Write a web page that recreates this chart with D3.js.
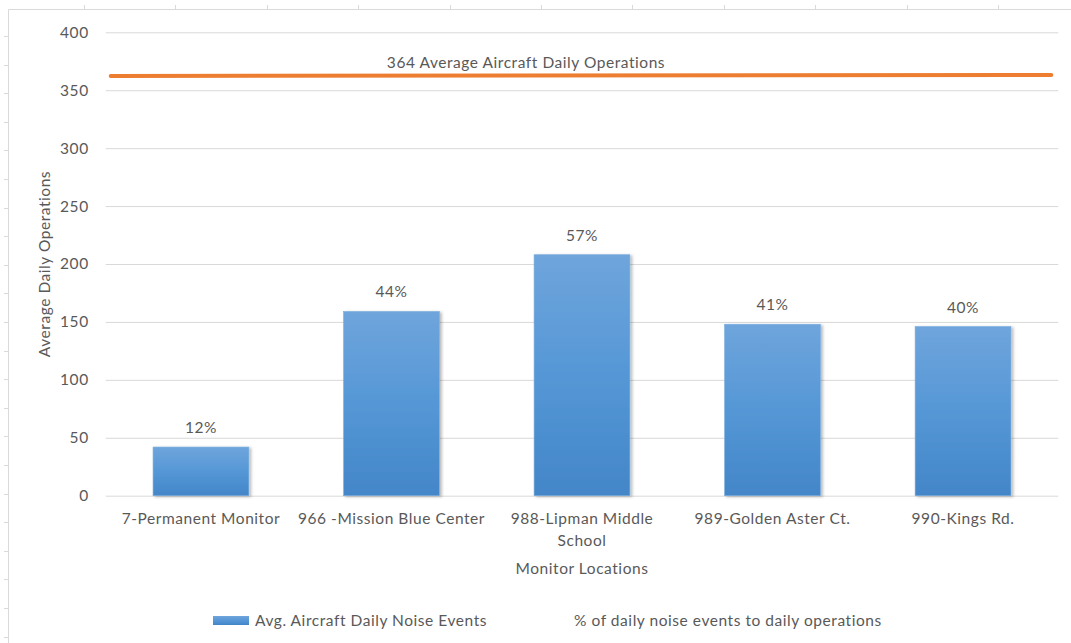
<!DOCTYPE html>
<html>
<head>
<meta charset="utf-8">
<script src="https://cdn.jsdelivr.net/npm/d3@7"></script>
<style>
  html, body { margin: 0; padding: 0; background: #fff; }
  svg { display: block; }
  text { font-family: Lato, "Open Sans", sans-serif; fill: #595959; letter-spacing: 0.55px; }
</style>
</head>
<body>
<svg id="chart" width="1071" height="643"></svg>
<script>
// Monitor locations (a "\n" marks where a long name breaks onto a second line)
const locations = [
  "7-Permanent Monitor",
  "966 -Mission Blue Center",
  "988-Lipman Middle\nSchool",
  "989-Golden Aster Ct.",
  "990-Kings Rd."
];
// Average aircraft daily noise events at each monitor
const noiseEvents = [42, 159, 208, 148, 146];

// Average aircraft daily operations (reference line)
const dailyOperations = 364;

// Value axis ticks
const yTicks = [0, 50, 100, 150, 200, 250, 300, 350, 400];

const seriesNames = [
  "Avg. Aircraft Daily Noise Events",
  "% of daily noise events to daily operations"
];

const FS = 15.5;
const svg = d3.select("#chart");
const W = 1071, H = 643;
const plot = { left: 105.7, right: 1058.3, top: 32.3, bottom: 495.7 };

const x = d3.scaleBand()
  .domain(locations)
  .range([plot.left, plot.right])
  .paddingInner(0.497)
  .paddingOuter(0.2485);

const y = d3.scaleLinear()
  .domain([0, 400])
  .range([plot.bottom, plot.top]);

// Worksheet frame with row / column markers
const frame = svg.append("g").attr("stroke", "#dadada").attr("fill", "none");
frame.append("line").attr("x1", 8.5).attr("x2", 8.5).attr("y1", 9.5).attr("y2", H);
frame.append("line").attr("x1", 8.5).attr("x2", W).attr("y1", 9.5).attr("y2", 9.5);
d3.range(36, H, 28.6).forEach(v => {
  frame.append("line").attr("x1", 4).attr("x2", 8.5)
    .attr("y1", Math.round(v) + 0.5).attr("y2", Math.round(v) + 0.5);
});
d3.range(84, W, 91.4).forEach(v => {
  frame.append("line").attr("x1", Math.round(v) + 0.5).attr("x2", Math.round(v) + 0.5)
    .attr("y1", 5).attr("y2", 9.5);
});

const defs = svg.append("defs");
const grad = defs.append("linearGradient")
  .attr("id", "barFill").attr("x1", 0).attr("x2", 0).attr("y1", 0).attr("y2", 1);
grad.append("stop").attr("offset", "0%").attr("stop-color", "#6fa5dc");
grad.append("stop").attr("offset", "50%").attr("stop-color", "#5597d6");
grad.append("stop").attr("offset", "100%").attr("stop-color", "#4386c8");

const shadow = defs.append("filter").attr("id", "barShadow")
  .attr("x", "-10%").attr("y", "-10%").attr("width", "130%").attr("height", "130%");
shadow.append("feDropShadow")
  .attr("dx", 2).attr("dy", 1).attr("stdDeviation", 1.6)
  .attr("flood-color", "#000").attr("flood-opacity", 0.28);

// Horizontal gridlines and value labels
const yAxis = d3.axisLeft(y).tickValues(yTicks).tickSize(-(plot.right - plot.left)).tickPadding(17);
const gy = svg.append("g")
  .attr("transform", `translate(${plot.left},0)`)
  .call(yAxis);
gy.select(".domain").remove();
gy.selectAll(".tick line").attr("stroke", "#d9d9d9").attr("stroke-width", 1);
gy.selectAll(".tick text")
  .attr("font-size", FS).attr("fill", "#595959")
  .style("font-family", "Lato, sans-serif");

// Bars
svg.append("g").selectAll("rect")
  .data(noiseEvents)
  .join("rect")
  .attr("x", (d, i) => x(locations[i]))
  .attr("width", x.bandwidth())
  .attr("y", d => y(d))
  .attr("height", d => y(0) - y(d))
  .attr("fill", "url(#barFill)")
  .attr("stroke", "#7aaedf")
  .attr("stroke-width", 0.6)
  .attr("filter", "url(#barShadow)");

// Share of daily operations above each bar
svg.append("g").selectAll("text")
  .data(noiseEvents)
  .join("text")
  .attr("x", (d, i) => x(locations[i]) + x.bandwidth() / 2)
  .attr("y", d => y(d) - 14)
  .attr("text-anchor", "middle")
  .attr("font-size", FS)
  .text(d => `${Math.round(d / dailyOperations * 100)}%`);

// Category labels along the bottom
const gx = svg.append("g");
locations.forEach(name => {
  const cx = x(name) + x.bandwidth() / 2;
  const t = gx.append("text")
    .attr("x", cx)
    .attr("y", 524)
    .attr("text-anchor", "middle")
    .attr("font-size", FS);
  name.split("\n").forEach((ln, k) => {
    t.append("tspan").attr("x", cx).attr("dy", k === 0 ? 0 : 22).text(ln);
  });
});

// Operations reference line
svg.append("line")
  .attr("x1", plot.left + 5).attr("x2", plot.right - 7)
  .attr("y1", y(dailyOperations) + 2).attr("y2", y(dailyOperations) + 1)
  .attr("stroke", "#ed7d31").attr("stroke-width", 4).attr("stroke-linecap", "round");

svg.append("text")
  .attr("x", 526).attr("y", 68)
  .attr("text-anchor", "middle")
  .attr("font-size", FS)
  .text(`${dailyOperations} Average Aircraft Daily Operations`);

// Axis titles
svg.append("text")
  .attr("transform", `translate(50,264) rotate(-90)`)
  .attr("text-anchor", "middle")
  .attr("font-size", FS)
  .text("Average Daily Operations");

svg.append("text")
  .attr("x", 582).attr("y", 574)
  .attr("text-anchor", "middle")
  .attr("font-size", FS)
  .text("Monitor Locations");

// Legend
const legend = svg.append("g");
legend.append("rect")
  .attr("x", 213).attr("y", 616).attr("width", 36).attr("height", 9)
  .attr("fill", "url(#barFill)");
legend.append("text")
  .attr("x", 255).attr("y", 626).attr("font-size", FS)
  .text(seriesNames[0]);
legend.append("text")
  .attr("x", 574).attr("y", 626).attr("font-size", FS)
  .text(seriesNames[1]);
</script>
</body>
</html>
